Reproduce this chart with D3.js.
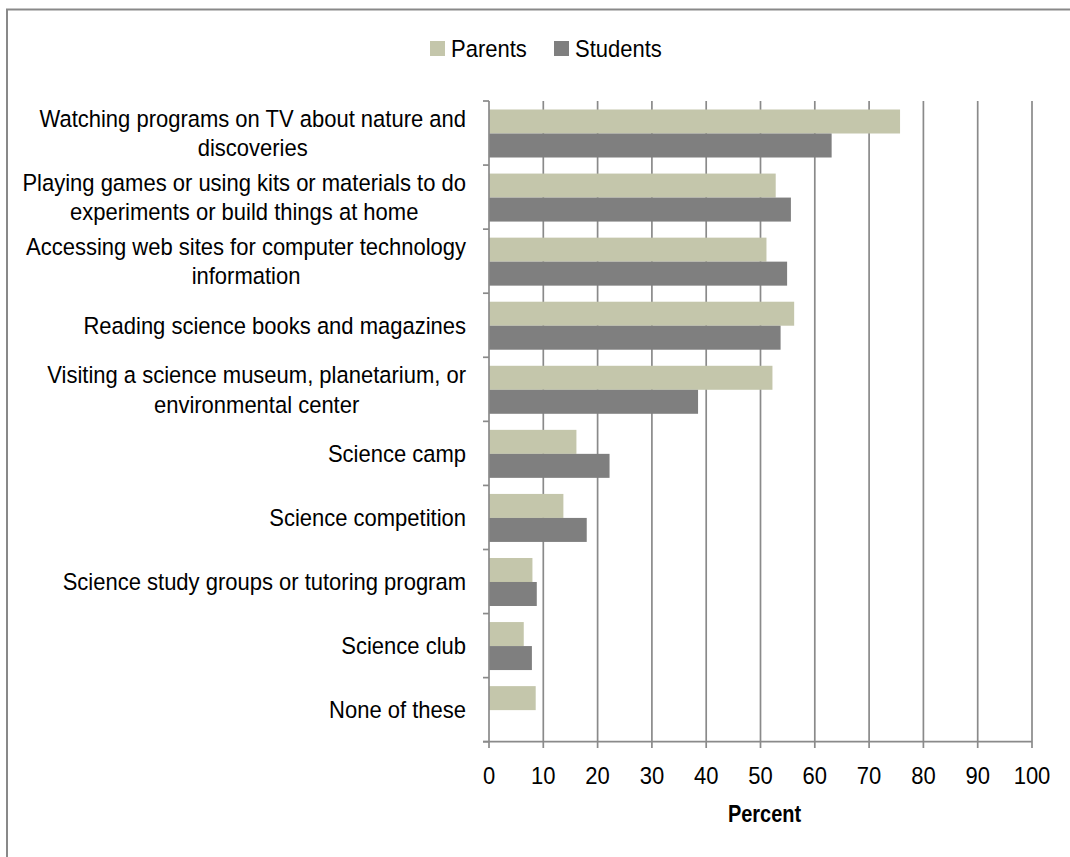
<!DOCTYPE html>
<html><head><meta charset="utf-8">
<script src="https://cdn.jsdelivr.net/npm/d3@7"></script>
<style>
html,body{margin:0;padding:0;background:#fff;}
text{font-family:"Liberation Sans Narrow","Arial Narrow","Liberation Sans",Arial,sans-serif;fill:#000;}
</style></head>
<body>
<svg id="chart" width="1070" height="857"></svg>
<script>
const categories = [
  "Watching programs on TV about nature and\ndiscoveries",
  "Playing games or using kits or materials to do\nexperiments or build things at home",
  "Accessing web sites for computer technology\ninformation",
  "Reading science books and magazines",
  "Visiting a science museum, planetarium, or\nenvironmental center",
  "Science camp",
  "Science competition",
  "Science study groups or tutoring program",
  "Science club",
  "None of these"
];
const seriesNames = ["Parents", "Students"];
const parents  = [75.7, 52.8, 51.1, 56.2, 52.2, 16.1, 13.7, 8.0, 6.4, 8.6];
const students = [63.1, 55.6, 54.9, 53.7, 38.5, 22.2, 18.0, 8.8, 7.9, 0];
const xTicks = [0,10,20,30,40,50,60,70,80,90,100];
const colors = {Parents:"#c4c6ab", Students:"#7f7f7f"};

const svg = d3.select("#chart");
const gridColor = "#8a8a8a";
const FS = 23.5;      // font size
const K = 0.936;      // horizontal condensing to mimic a narrow face

// outer border (top and left visible)
svg.append("rect").attr("x",7).attr("y",9.5).attr("width",1100).attr("height",900)
  .attr("fill","none").attr("stroke","#898989").attr("stroke-width",2);

const x = d3.scaleLinear().domain([0,100]).range([489,1032]);
const y = d3.scaleBand().domain(categories).range([101,741.7]).paddingInner(0).paddingOuter(0);
const sub = d3.scaleBand().domain(seriesNames).range([8.5, 56.5]);

// gridlines
svg.append("g").selectAll("line").data(xTicks.slice(1)).join("line")
  .attr("x1",d=>x(d)).attr("x2",d=>x(d)).attr("y1",101).attr("y2",748)
  .attr("stroke",gridColor).attr("stroke-width",1.7);

// bars
const data = categories.map((c,i)=>({cat:c, vals:[{s:"Parents",v:parents[i]},{s:"Students",v:students[i]}]}));
const groups = svg.append("g").selectAll("g").data(data).join("g")
  .attr("transform",d=>`translate(0,${y(d.cat)})`);
groups.selectAll("rect").data(d=>d.vals.filter(e=>e.v>0)).join("rect")
  .attr("x",x(0)).attr("y",d=>sub(d.s)).attr("height",sub.bandwidth())
  .attr("width",d=>x(d.v)-x(0)).attr("fill",d=>colors[d.s]);

// y axis line and ticks
const yTickPos = categories.map(c=>y(c)).concat([y.range()[1]]);
svg.append("line").attr("x1",x(0)).attr("x2",x(0)).attr("y1",101).attr("y2",748)
  .attr("stroke",gridColor).attr("stroke-width",1.7);
svg.append("g").selectAll("line").data(yTickPos).join("line")
  .attr("x1",483).attr("x2",x(0)).attr("y1",d=>d).attr("y2",d=>d)
  .attr("stroke",gridColor).attr("stroke-width",1.7);
// x axis line
svg.append("line").attr("x1",483).attr("x2",x(100)).attr("y1",741.7).attr("y2",741.7)
  .attr("stroke",gridColor).attr("stroke-width",1.7);

function ntext(px, py, str, anchor, k, bold){
  const g = svg.append("g").attr("transform",`translate(${px},${py}) scale(${k},1)`);
  const t = g.append("text").attr("x",0).attr("y",0).attr("text-anchor",anchor||"start")
    .attr("font-size",FS).text(str);
  if(bold) t.attr("font-weight","bold");
  return t;
}

// x tick labels
xTicks.forEach(d=>ntext(x(d), 783.5, d, "middle", K));

ntext(x(50)+4, 821.5, "Percent", "middle", 0.85, true);

// category labels
const rightEdge = 466;
const lineH = 29.5;
categories.forEach(c=>{
  const lines = c.split("\n");
  const cy = y(c) + y.bandwidth()/2;
  const g = svg.append("g").attr("transform",`translate(${rightEdge},0) scale(${K},1)`);
  const t = g.append("text").attr("font-size",FS).attr("text-anchor","middle");
  const y0 = cy - (lines.length-1)*lineH/2 + 8.5;
  lines.forEach((l,i)=>t.append("tspan").attr("x",0).attr("y",y0+i*lineH).text(l));
  let maxW = 0;
  t.selectAll("tspan").each(function(){maxW=Math.max(maxW,this.getComputedTextLength());});
  t.selectAll("tspan").attr("x",-maxW/2);
});

// legend
const legItems = [{s:"Parents",x:430},{s:"Students",x:554}];
legItems.forEach(it=>{
  svg.append("rect").attr("x",it.x).attr("y",41).attr("width",15).attr("height",15).attr("fill",colors[it.s]);
  ntext(it.x+21, 56.5, it.s, "start", K);
});
</script>
</body></html>
